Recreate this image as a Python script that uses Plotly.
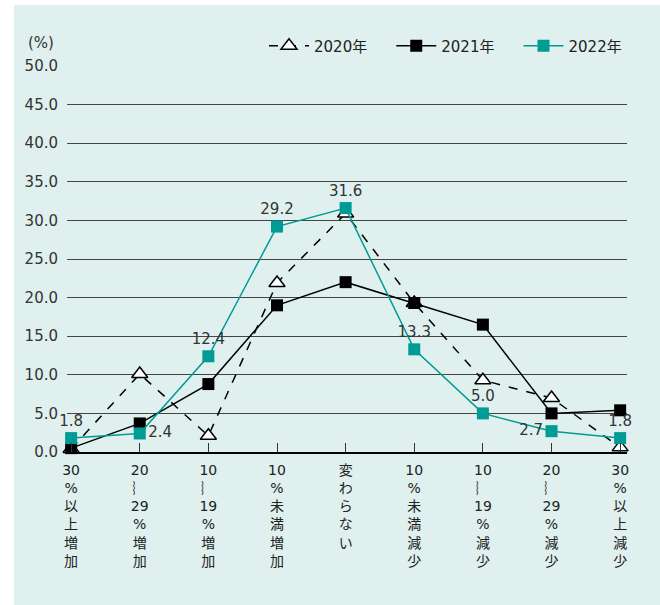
import plotly.graph_objects as go

categories = ["30<br>%<br>以<br>上<br>増<br>加", "20<br>︴<br>29<br>%<br>増<br>加", "10<br>︴<br>19<br>%<br>増<br>加",
              "10<br>%<br>未<br>満<br>増<br>加", "変<br>わ<br>ら<br>な<br>い", "10<br>%<br>未<br>満<br>減<br>少",
              "10<br>︴<br>19<br>%<br>減<br>少", "20<br>︴<br>29<br>%<br>減<br>少", "30<br>%<br>以<br>上<br>減<br>少"]
s2020 = [0.4, 10.1, 2.1, 21.9, 30.9, 19.3, 9.3, 7.0, 0.6]
s2021 = [0.5, 3.7, 8.8, 19.0, 22.0, 19.3, 16.5, 5.0, 5.4]
s2022 = [1.8, 2.4, 12.4, 29.2, 31.6, 13.3, 5.0, 2.7, 1.8]
label_pos_2022 = ["top center", "middle right", "top center", "top center", "top center",
                  "top center", "top center", "middle left", "top center"]
y_ticks = [0, 5, 10, 15, 20, 25, 30, 35, 40, 45, 50]

FONT = "DejaVu Sans, Noto Sans CJK JP"
TEAL = "#009b94"
BG = "#dff0ef"
x = list(range(len(categories)))

fig = go.Figure()
fig.add_trace(go.Scatter(x=x, y=s2020, name="2020年    ", mode="lines+markers",
                         line=dict(color="black", width=1.5, dash="dash"),
                         marker=dict(symbol="triangle-up", size=14, color="white",
                                     line=dict(color="black", width=1.5)),
                         cliponaxis=False))
fig.add_trace(go.Scatter(x=x, y=s2021, name="2021年    ", mode="lines+markers",
                         line=dict(color="black", width=1.5),
                         marker=dict(symbol="square", size=12, color="black"),
                         cliponaxis=False))
fig.add_trace(go.Scatter(x=x, y=s2022, name="2022年", mode="lines+markers+text",
                         line=dict(color=TEAL, width=1.5),
                         marker=dict(symbol="square", size=12, color=TEAL),
                         text=[f"{v:.1f}" for v in s2022], textposition=label_pos_2022,
                         textfont=dict(size=15, color="#333333", family=FONT),
                         cliponaxis=False))

L, R, T, B = 67, 33, 66, 153
W, H = 660, 605
pw, ph = W - L - R, H - T - B
fig.add_shape(type="rect", xref="paper", yref="paper",
              x0=(14 - L) / pw, x1=(W - L + 5) / pw,
              y0=(H - B - H - 5) / ph, y1=(H - B - 5) / ph,
              fillcolor=BG, line=dict(width=0), layer="below")

fig.add_annotation(text="(%)", xref="paper", yref="paper", x=(41 - L) / pw, y=(H - B - 43) / ph,
                   showarrow=False, font=dict(size=15, color="#333333", family=FONT),
                   xanchor="center", yanchor="middle")

fig.update_layout(
    width=W, height=H, margin=dict(l=L, r=R, t=T, b=B),
    paper_bgcolor="white", plot_bgcolor="rgba(0,0,0,0)",
    font=dict(family=FONT, size=15, color="#333333"),
    showlegend=True,
    legend=dict(orientation="h", x=1.0, xanchor="right", y=(H - B - 46) / ph, yanchor="middle",
                bgcolor="rgba(0,0,0,0)", font=dict(size=15, color="#222222", family=FONT),
                itemwidth=40, traceorder="normal"),
)
fig.update_xaxes(range=[-0.06, 8.1], tickmode="array", tickvals=x, ticktext=categories,
                 ticks="inside", ticklen=9, tickcolor="#333333", tickwidth=1,
                 showgrid=False, showline=True, linecolor="black", linewidth=2,
                 zeroline=False, tickfont=dict(size=14, color="#222222", family=FONT),
                 tickangle=0, ticklabelstandoff=4)
fig.update_yaxes(range=[0, 50], tickmode="array", tickvals=y_ticks,
                 ticktext=[f"{v:.1f}" for v in y_ticks],
                 showgrid=True, gridcolor="#444444", gridwidth=1, zeroline=False,
                 showline=False, ticks="", ticklabelstandoff=8,
                 tickfont=dict(size=15, color="#333333", family=FONT))

fig.write_html("out.html")
